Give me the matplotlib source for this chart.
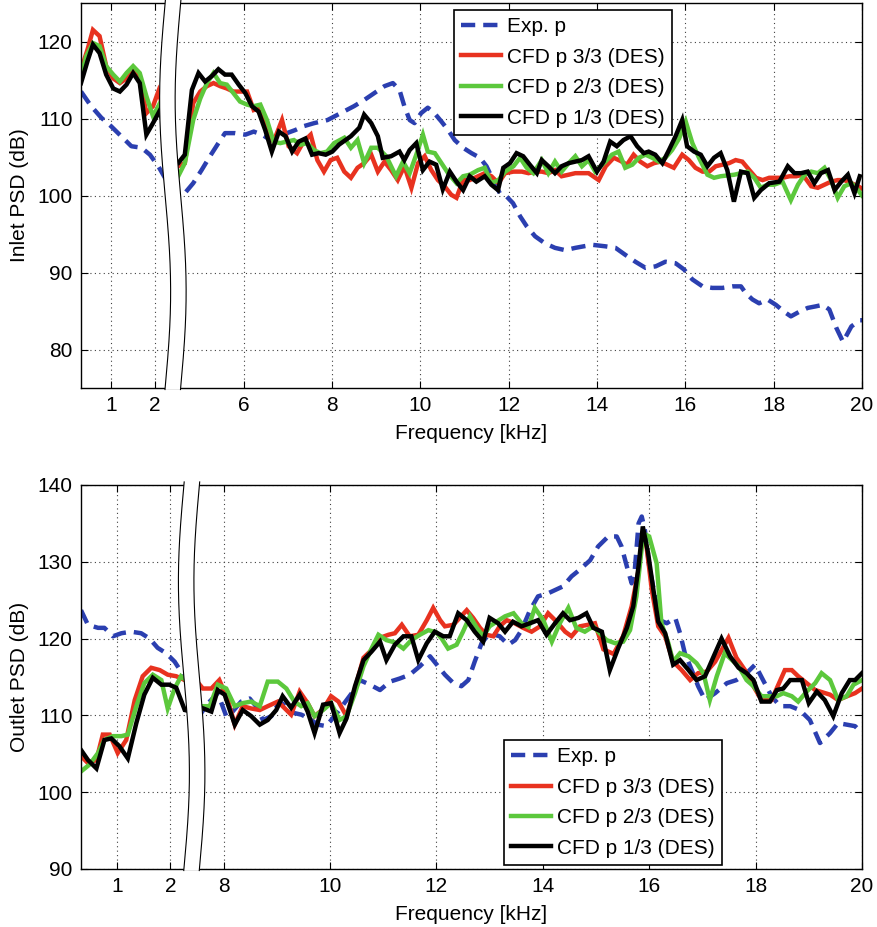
import numpy as np
import matplotlib
matplotlib.use('Agg')
import matplotlib.pyplot as plt
from matplotlib.patches import Polygon

plt.rcParams['font.family'] = ['Liberation Sans', 'DejaVu Sans']

# ---------------- DATA (frequency in kHz, PSD in dB) ----------------
labels = ['Exp. p', 'CFD p 3/3 (DES)', 'CFD p 2/3 (DES)', 'CFD p 1/3 (DES)']
inlet_xticks = [1, 2, 6, 8, 10, 12, 14, 16, 18, 20]
outlet_xticks = [1, 2, 8, 10, 12, 14, 16, 18, 20]
inlet_yticks = [80, 90, 100, 110, 120]
outlet_yticks = [90, 100, 110, 120, 130, 140]

# Inlet: Exp. p
inlet_exp_f = [0.32, 0.55, 0.78, 1.0, 1.23, 1.46, 1.69, 1.88, 2.07, 2.25, 2.4,
               4.4, 4.52, 4.67, 4.86, 5.05, 5.24, 5.43, 5.58, 5.81, 6.04,
               6.23, 6.42, 6.61, 6.8, 6.98, 7.17, 7.36, 7.6, 7.9, 8.2,
               8.5, 8.73, 8.96, 9.19, 9.38, 9.53, 9.64, 9.76, 9.87, 10.02,
               10.17, 10.32, 10.48, 10.63, 10.78, 10.97, 11.16, 11.35, 11.5, 11.65,
               11.8, 11.95, 12.1, 12.26, 12.41, 12.6, 12.82, 13.05, 13.28, 13.51,
               13.89, 14.19, 14.42, 14.64, 14.87, 15.1, 15.33, 15.55, 15.78, 15.97,
               16.16, 16.39, 16.61, 16.84, 17.07, 17.26, 17.37, 17.52, 17.67, 17.86,
               18.05, 18.24, 18.39, 18.58, 18.77, 18.95, 19.11, 19.26, 19.42, 19.57,
               19.76, 19.95, 20.0]
inlet_exp_v = [113.5, 111.6, 110.1, 109.0, 107.7, 106.4, 106.2, 105.3, 103.8, 102.0, 100.5,
               100.2, 100.1, 100.3, 101.6, 103.3, 105.1, 106.8, 108.1, 108.1, 107.9,
               108.3, 107.9, 107.2, 107.6, 108.1, 108.5, 109.0, 109.4, 109.8, 110.7,
               111.6, 112.4, 113.3, 114.2, 114.6, 113.7, 111.6, 109.8, 109.4, 110.7,
               111.4, 110.7, 109.6, 108.5, 107.2, 106.2, 105.5, 104.9, 103.8, 102.0,
               100.3, 99.9, 99.0, 97.3, 96.0, 94.7, 93.8, 93.2, 92.9, 93.2,
               93.6, 93.4, 93.2, 92.3, 91.4, 90.6, 90.8, 91.4, 91.2, 90.4,
               89.1, 88.2, 88.0, 88.0, 88.2, 88.2, 87.3, 86.5, 86.0, 86.5,
               85.8, 84.9, 84.3, 84.9, 85.4, 85.6, 85.8, 85.2, 82.8, 81.0,
               83.0, 83.8, 83.8]

# Inlet: CFD p 3/3
inlet_c3_f = [0.32, 0.47, 0.59, 0.74, 0.89, 1.05, 1.2, 1.35, 1.5, 1.65, 1.8, 1.95, 2.07, 2.25, 2.4,
              4.4, 4.52, 4.67, 4.86, 5.02, 5.17, 5.32, 5.47, 5.62, 5.77,
              5.92, 6.08, 6.23, 6.38, 6.53, 6.68, 6.87, 7.02, 7.21, 7.36,
              7.52, 7.67, 7.82, 7.97, 8.12, 8.28, 8.43, 8.58, 8.73, 8.89,
              9.04, 9.19, 9.34, 9.49, 9.64, 9.8, 9.95, 10.1, 10.25, 10.4,
              10.55, 10.7, 10.82, 10.97, 11.12, 11.31, 11.46, 11.61, 11.77, 11.92,
              12.11, 12.3, 12.45, 12.6, 12.75, 12.9, 13.05, 13.2, 13.36, 13.51,
              13.66, 13.81, 14.04, 14.2, 14.38, 14.53, 14.68, 14.83, 14.98, 15.14,
              15.29, 15.44, 15.59, 15.74, 15.93, 16.08, 16.23, 16.39, 16.54, 16.69,
              16.84, 16.99, 17.14, 17.29, 17.45, 17.6, 17.75, 17.9, 18.05, 18.2,
              18.36, 18.51, 18.66, 18.85, 19.0, 19.15, 19.3, 19.45, 19.6, 19.76,
              19.91, 20.0]
inlet_c3_v = [116.3, 119.0, 121.5, 120.7, 116.8, 115.2, 114.6, 115.2, 116.3, 115.2, 110.7, 111.6, 113.5, 110.0, 105.0,
              104.5, 103.8, 104.2, 112.0, 113.5, 114.2, 114.6, 114.2, 113.9, 113.5,
              113.5, 113.5, 111.1, 111.4, 108.5, 107.0, 109.8, 106.4, 105.5, 107.0,
              107.9, 104.6, 103.1, 104.6, 104.9, 103.1, 102.3, 103.6, 104.2, 105.3,
              103.1, 104.4, 103.3, 102.0, 103.8, 101.0, 104.2, 105.1, 103.3, 102.0,
              101.2, 100.1, 99.7, 102.0, 102.0, 102.5, 102.9, 102.5, 101.6, 102.9,
              103.1, 103.1, 102.9, 103.1, 103.1, 102.9, 103.3, 102.5, 102.7, 102.9,
              102.9, 102.9, 102.0, 103.8, 104.9, 104.5, 104.0, 105.3, 104.4, 103.8,
              104.2, 104.4, 104.0, 103.6, 105.3, 104.6, 103.6, 103.1, 103.1, 103.8,
              104.0, 104.2, 104.6, 104.4, 103.3, 102.3, 102.0, 102.3, 102.3, 102.3,
              102.5, 102.5, 102.7, 101.2, 101.0, 101.4, 101.8, 102.0, 102.0, 101.6,
              101.2, 100.9]

# Inlet: CFD p 2/3
inlet_c2_f = [0.32, 0.44, 0.59, 0.74, 0.89, 1.05, 1.2, 1.35, 1.5, 1.65, 1.8, 1.95, 2.07, 2.25, 2.4,
              4.4, 4.52, 4.67, 4.86, 5.02, 5.17, 5.32, 5.47, 5.62, 5.77,
              5.92, 6.08, 6.23, 6.38, 6.53, 6.68, 6.83, 6.98, 7.14, 7.29,
              7.44, 7.59, 7.74, 7.89, 8.05, 8.28, 8.43, 8.58, 8.73, 8.89,
              9.04, 9.23, 9.45, 9.61, 9.76, 9.91, 10.06, 10.17, 10.33, 10.48,
              10.63, 10.82, 10.97, 11.12, 11.31, 11.46, 11.61, 11.77, 11.92, 12.11,
              12.26, 12.41, 12.56, 12.75, 12.9, 13.05, 13.2, 13.36, 13.51, 13.66,
              13.81, 13.96, 14.19, 14.34, 14.49, 14.64, 14.8, 14.95, 15.1, 15.25,
              15.4, 15.55, 15.7, 15.86, 16.01, 16.16, 16.31, 16.5, 16.65, 16.8,
              16.95, 17.11, 17.26, 17.41, 17.56, 17.71, 17.86, 18.01, 18.2, 18.39,
              18.55, 18.7, 18.85, 19.0, 19.15, 19.3, 19.45, 19.6, 19.76, 19.91,
              20.0]
inlet_c2_v = [115.5, 118.1, 119.8, 119.4, 116.8, 115.7, 114.8, 115.9, 116.8, 115.9, 112.9, 110.3, 111.6, 108.0, 103.5,
              103.0, 102.5, 104.2, 109.8, 112.6, 114.6, 115.9, 114.6, 114.4, 113.3,
              112.2, 111.8, 111.6, 111.8, 109.8, 107.0, 106.8, 107.0, 107.2, 106.6,
              106.8, 105.9, 105.5, 105.7, 106.8, 107.5, 106.2, 107.2, 104.2, 106.2,
              106.2, 105.1, 102.5, 104.4, 102.9, 105.3, 107.9, 105.7, 105.5, 104.2,
              102.9, 101.6, 102.5, 102.7, 103.3, 103.6, 101.6, 102.0, 103.1, 103.8,
              104.9, 103.6, 102.9, 104.6, 102.9, 104.4, 103.1, 104.2, 105.1, 103.8,
              104.6, 103.1, 104.4, 105.3, 105.7, 103.6, 104.0, 104.9, 105.3, 104.9,
              104.4, 104.9, 105.9, 107.4, 109.6, 106.8, 104.9, 102.7, 102.3, 102.5,
              102.6, 102.7, 102.9, 103.1, 102.3, 101.0, 101.4, 101.4, 101.8, 99.4,
              101.4, 102.7, 103.1, 102.9, 103.6, 102.0, 99.7, 101.2, 101.6, 100.7,
              100.0]

# Inlet: CFD p 1/3
inlet_c1_f = [0.32, 0.47, 0.59, 0.74, 0.89, 1.05, 1.2, 1.35, 1.5, 1.65, 1.8, 1.95, 2.1, 2.25, 2.4,
              4.4, 4.52, 4.67, 4.83, 4.98, 5.13, 5.28, 5.43, 5.58, 5.73,
              5.89, 6.04, 6.19, 6.34, 6.49, 6.64, 6.8, 6.95, 7.1, 7.25,
              7.4, 7.55, 7.7, 7.86, 8.01, 8.16, 8.43, 8.62, 8.73, 8.89,
              9.04, 9.15, 9.34, 9.53, 9.64, 9.76, 9.91, 10.06, 10.21, 10.36,
              10.51, 10.67, 10.82, 10.97, 11.12, 11.27, 11.46, 11.61, 11.76, 11.88,
              12.03, 12.18, 12.33, 12.48, 12.64, 12.75, 12.9, 13.05, 13.2, 13.36,
              13.51, 13.66, 13.81, 14.0, 14.15, 14.3, 14.45, 14.6, 14.76, 14.91,
              15.06, 15.17, 15.32, 15.48, 15.63, 15.78, 15.93, 16.04, 16.2, 16.35,
              16.5, 16.65, 16.8, 16.95, 17.1, 17.26, 17.41, 17.56, 17.71, 17.9,
              18.13, 18.32, 18.47, 18.62, 18.77, 18.92, 19.07, 19.23, 19.38, 19.53,
              19.68, 19.83, 19.95]
inlet_c1_v = [114.6, 117.5, 119.6, 118.5, 115.7, 113.9, 113.5, 114.4, 115.9, 114.6, 107.9, 109.4, 111.0, 108.0, 105.0,
              104.3, 104.2, 105.3, 113.7, 115.9, 114.8, 115.5, 116.4, 115.7, 115.7,
              114.4, 113.3, 111.6, 110.9, 108.5, 105.7, 108.3, 107.7, 105.7, 107.0,
              107.4, 105.3, 105.5, 105.3, 105.7, 106.6, 107.7, 108.8, 110.5, 109.4,
              107.7, 104.9, 105.1, 105.7, 104.6, 105.9, 106.8, 103.3, 104.4, 104.0,
              100.8, 103.1, 101.8, 100.7, 102.5, 101.8, 102.5, 101.4, 100.7, 103.6,
              104.2, 105.5, 105.1, 104.0, 102.9, 104.6, 103.8, 102.9, 103.8, 104.2,
              104.4, 104.6, 105.1, 103.1, 104.4, 107.0, 106.4, 107.2, 107.7, 106.4,
              105.5, 105.7, 105.3, 104.2, 105.9, 107.7, 109.8, 106.4, 105.7, 105.3,
              103.8, 104.9, 105.5, 103.3, 99.2, 103.1, 102.9, 99.7, 100.7, 101.6,
              101.8, 103.8, 102.9, 102.9, 103.1, 101.6, 102.9, 103.3, 100.7, 101.8,
              102.7, 100.3, 102.5]

# Outlet: Exp. p
outlet_exp_f = [0.32, 0.45, 0.64, 0.76, 0.92, 1.08, 1.26, 1.45, 1.61, 1.76, 1.92, 2.08, 2.2, 2.4,
                7.4, 7.58, 7.71, 7.89, 8.05, 8.17, 8.33, 8.49, 8.61, 8.74,
                8.9, 9.05, 9.21, 9.33, 9.46, 9.61, 9.77, 9.93, 10.13, 10.41,
                10.56, 10.75, 10.94, 11.13, 11.31, 11.5, 11.69, 11.88, 12.16, 12.32,
                12.47, 12.6, 12.72, 12.85, 13.0, 13.19, 13.35, 13.48, 13.6, 13.76,
                13.91, 14.1, 14.38, 14.54, 14.7, 14.89, 15.04, 15.23, 15.39, 15.48,
                15.58, 15.67, 15.73, 15.8, 15.86, 15.92, 16.0, 16.11, 16.2, 16.33,
                16.49, 16.58, 16.67, 16.8, 16.92, 17.05, 17.24, 17.46, 17.64, 17.83,
                17.99, 18.14, 18.3, 18.46, 18.65, 18.83, 19.02, 19.21, 19.4, 19.55,
                19.71, 19.87, 20.0]
outlet_exp_v = [123.7, 121.8, 121.4, 121.4, 120.3, 120.7, 120.9, 120.7, 120.0, 118.8, 118.1, 117.0, 115.7, 113.0,
                110.0, 110.3, 111.6, 112.9, 109.9, 110.5, 111.8, 112.2, 111.2, 109.4,
                109.9, 111.8, 111.0, 110.3, 110.1, 109.6, 108.8, 108.6, 110.3, 112.9,
                114.6, 114.0, 113.3, 114.4, 114.8, 115.3, 116.4, 117.7, 115.3, 114.2,
                113.8, 114.6, 117.0, 119.4, 120.7, 120.3, 119.2, 119.8, 121.1, 123.7,
                125.5, 125.9, 126.8, 128.1, 129.0, 130.2, 132.0, 133.3, 133.3, 132.0,
                129.4, 127.2, 129.0, 135.0, 135.9, 134.1, 129.4, 125.5, 122.4, 122.0,
                122.7, 120.7, 118.1, 115.9, 113.8, 112.0, 112.9, 114.2, 114.6, 115.5,
                116.6, 114.6, 112.5, 111.2, 111.2, 110.7, 109.4, 106.4, 107.7, 109.0,
                108.8, 108.6, 107.7]

# Outlet: CFD p 3/3
outlet_c3_f = [0.32, 0.45, 0.61, 0.73, 0.86, 1.01, 1.17, 1.33, 1.48, 1.64, 1.8, 1.95, 2.11, 2.27, 2.4,
               7.4, 7.48, 7.61, 7.77, 7.92, 8.08, 8.21, 8.36, 8.52, 8.68,
               8.83, 9.02, 9.27, 9.43, 9.58, 9.71, 9.87, 10.02, 10.16, 10.31,
               10.47, 10.63, 10.78, 10.94, 11.1, 11.22, 11.35, 11.5, 11.66, 11.82,
               11.94, 12.07, 12.16, 12.32, 12.57, 12.69, 12.82, 12.94, 13.07, 13.19,
               13.32, 13.47, 13.63, 13.79, 13.95, 14.1, 14.26, 14.42, 14.54, 14.7,
               14.85, 14.98, 15.14, 15.33, 15.51, 15.67, 15.8, 15.88, 15.95, 16.05,
               16.17, 16.3, 16.45, 16.61, 16.77, 16.92, 17.08, 17.24, 17.49, 17.64,
               17.8, 17.96, 18.11, 18.3, 18.55, 18.68, 18.8, 18.96, 19.12, 19.4,
               19.55, 19.72, 19.87, 20.0]
outlet_c3_v = [104.7, 103.8, 104.2, 107.5, 107.5, 105.1, 106.8, 112.0, 115.1, 116.2, 115.9, 115.3, 115.1, 114.6, 114.6,
               114.6, 114.6, 113.5, 113.5, 114.6, 112.0, 108.8, 111.2, 110.9, 110.7,
               111.2, 111.8, 110.1, 113.1, 111.6, 109.9, 110.8, 112.5, 111.8, 109.9,
               113.5, 117.5, 118.5, 120.1, 120.5, 120.7, 121.8, 120.3, 120.5, 122.4,
               124.0, 122.4, 121.6, 121.8, 123.7, 122.7, 121.4, 120.5, 120.3, 121.6,
               122.4, 122.0, 121.4, 120.9, 121.6, 123.3, 122.2, 120.9, 120.3, 121.6,
               121.8, 122.0, 118.6, 118.0, 120.3, 124.2, 128.9, 133.7, 132.0, 126.3,
               121.6, 120.3, 117.0, 115.9, 114.6, 115.5, 115.7, 117.0, 120.1, 117.5,
               115.9, 113.8, 112.0, 112.0, 115.9, 115.9, 115.1, 114.2, 113.3, 112.7,
               112.0, 112.5, 112.9, 113.5]

# Outlet: CFD p 2/3
outlet_c2_f = [0.32, 0.48, 0.64, 0.76, 0.92, 1.08, 1.2, 1.36, 1.51, 1.67, 1.83, 1.95, 2.08, 2.2, 2.4,
               7.4, 7.58, 7.74, 7.89, 8.05, 8.21, 8.36, 8.52, 8.68, 8.83,
               9.02, 9.18, 9.33, 9.46, 9.58, 9.71, 9.87, 10.02, 10.18, 10.31,
               10.47, 10.63, 10.78, 10.91, 11.06, 11.22, 11.38, 11.53, 11.69, 11.85,
               12.0, 12.1, 12.22, 12.38, 12.5, 12.63, 12.76, 12.88, 13.0, 13.13,
               13.29, 13.45, 13.6, 13.73, 13.85, 14.01, 14.17, 14.32, 14.48, 14.63,
               14.79, 14.95, 15.07, 15.2, 15.36, 15.51, 15.64, 15.76, 15.89, 16.0,
               16.14, 16.23, 16.36, 16.45, 16.58, 16.74, 16.89, 17.02, 17.14, 17.27,
               17.42, 17.68, 17.83, 17.96, 18.11, 18.4, 18.52, 18.68, 18.8, 18.96,
               19.12, 19.24, 19.4, 19.55, 19.71, 19.84, 20.0]
outlet_c2_v = [102.7, 103.6, 105.1, 106.8, 107.3, 107.3, 107.5, 111.2, 114.2, 115.3, 114.6, 110.9, 113.5, 115.1, 114.0,
               111.0, 111.2, 111.2, 114.0, 113.5, 111.2, 111.6, 111.8, 111.2, 114.4,
               114.4, 113.5, 111.8, 111.2, 111.6, 109.9, 110.7, 111.6, 109.4, 109.9,
               112.9, 116.4, 118.7, 120.5, 119.8, 119.5, 118.7, 119.8, 120.5, 121.1,
               120.8, 120.0, 118.7, 119.2, 120.9, 122.9, 121.4, 120.3, 121.6, 122.2,
               122.9, 123.3, 122.0, 121.5, 124.0, 122.4, 119.6, 122.0, 124.0, 121.4,
               120.9, 121.6, 120.7, 119.8, 119.4, 119.6, 121.1, 125.5, 133.7, 133.3,
               129.8, 122.0, 119.4, 117.0, 118.1, 117.7, 116.8, 115.5, 112.0, 115.1,
               118.1, 116.4, 114.6, 113.8, 112.5, 112.5, 112.9, 112.5, 111.8, 113.1,
               114.2, 115.5, 114.6, 112.0, 112.5, 114.0, 114.6]

# Outlet: CFD p 1/3
outlet_c1_f = [0.32, 0.45, 0.61, 0.76, 0.89, 1.04, 1.2, 1.36, 1.51, 1.67, 1.83, 1.98, 2.11, 2.27, 2.4,
               7.4, 7.58, 7.77, 7.89, 8.02, 8.21, 8.36, 8.52, 8.68, 8.83,
               8.99, 9.11, 9.27, 9.43, 9.58, 9.71, 9.87, 10.02, 10.18, 10.31,
               10.47, 10.63, 10.78, 10.94, 11.06, 11.22, 11.38, 11.53, 11.66, 11.82,
               11.97, 12.13, 12.25, 12.41, 12.57, 12.72, 12.88, 13.0, 13.16, 13.29,
               13.44, 13.6, 13.76, 13.91, 14.07, 14.23, 14.38, 14.51, 14.67, 14.82,
               14.95, 15.11, 15.26, 15.42, 15.58, 15.7, 15.8, 15.88, 15.98, 16.08,
               16.17, 16.3, 16.45, 16.58, 16.74, 16.89, 17.05, 17.2, 17.36, 17.52,
               17.68, 17.83, 17.96, 18.11, 18.27, 18.4, 18.52, 18.65, 18.74, 18.87,
               19.0, 19.15, 19.3, 19.46, 19.62, 19.77, 19.87, 20.0]
outlet_c1_v = [105.5, 104.2, 103.1, 106.8, 107.0, 106.0, 104.4, 109.0, 112.7, 114.9, 114.0, 114.0, 113.6, 110.7, 110.5,
               110.8, 111.0, 110.5, 113.3, 112.7, 108.8, 110.7, 109.9, 108.8, 109.4,
               110.7, 112.5, 111.0, 112.7, 110.5, 107.7, 111.4, 111.6, 107.7, 109.6,
               113.8, 117.2, 118.3, 119.6, 117.2, 119.2, 120.3, 120.3, 117.2, 119.4,
               120.9, 120.3, 120.3, 123.3, 122.4, 120.9, 119.6, 122.7, 122.0, 120.9,
               122.2, 121.6, 122.0, 122.4, 120.5, 122.0, 123.3, 122.4, 122.7, 123.3,
               121.4, 120.9, 115.9, 118.8, 121.4, 124.2, 129.4, 134.6, 131.1, 126.3,
               122.2, 120.7, 116.6, 117.2, 115.9, 114.6, 115.1, 117.5, 120.0, 117.7,
               116.2, 115.5, 114.6, 111.8, 111.8, 113.3, 113.5, 114.6, 114.6, 114.6,
               111.6, 113.1, 112.0, 109.9, 112.9, 114.6, 114.6, 115.5]

# ---------------- STYLE ----------------
BLUE = '#2b3fb0'
RED = '#e8321f'
GREEN = '#5cc83c'
BLACK = '#000000'
FS = 15
LW = 3.2

W, H = 878, 927
fig = plt.figure(figsize=(W / 100, H / 100), dpi=100)
ax1 = fig.add_axes([81 / W, 1 - 388 / H, 781 / W, 385 / H])
ax2 = fig.add_axes([81 / W, 1 - 869 / H, 781 / W, 384 / H])


def broken_scale(ax, a, s):
    def fwd(x):
        x = np.asarray(x, dtype=float)
        return np.where(x <= a, x, np.where(x >= a + s, x - s, a))

    def inv(y):
        y = np.asarray(y, dtype=float)
        return np.where(y <= a, y, y + s)

    ax.set_xscale('function', functions=(fwd, inv))


def draw_break(ax, a, s, xmin, xmax, width_px, amp_px):
    cx = (a - xmin) / ((xmax - s) - xmin)
    w = width_px / 781.0
    A = amp_px / 781.0
    y = np.linspace(-0.004, 1.008, 300)
    xl = cx - w / 2 + A * np.sin(2 * np.pi * y)
    xr = cx + w / 2 + A * np.sin(2 * np.pi * y)
    pts = np.column_stack([np.r_[xl, xr[::-1]], np.r_[y, y[::-1]]])
    ax.add_patch(Polygon(pts, closed=True, transform=ax.transAxes, facecolor='white',
                         edgecolor='none', clip_on=False, zorder=10))
    for xx in (xl, xr):
        ax.plot(xx, y, transform=ax.transAxes, color='k', lw=0.8, clip_on=False, zorder=11)


def panel(ax, series, a, s, xticks, yticks, ylim, ylabel, leg_loc, leg_anchor):
    broken_scale(ax, a, s)
    handles = []
    for (f, v), col, lab in zip(series, [BLUE, RED, GREEN, BLACK], labels):
        if lab.startswith('Exp'):
            h, = ax.plot(f, v, color=col, lw=LW, dashes=(3.2, 1.8), label=lab, zorder=3)
        else:
            h, = ax.plot(f, v, color=col, lw=LW, label=lab, zorder=3,
                         solid_joinstyle='miter')
        handles.append(h)
    draw_break(ax, a, s, 0.32, 20.0, 15.5, 5.5)
    ax.set_xlim(0.32, 20.0)
    ax.set_ylim(*ylim)
    ax.set_xticks(xticks)
    ax.set_xticklabels([str(t) for t in xticks])
    ax.set_yticks(yticks)
    ax.minorticks_off()
    ax.grid(True, linestyle=(0, (1, 3)), color='0.25', linewidth=0.8)
    ax.tick_params(direction='in', length=5, width=0.8, top=True, right=True,
                   labelsize=FS, pad=6)
    for sp in ax.spines.values():
        sp.set_linewidth(1.0)
        sp.set_zorder(5)
    ax.set_ylabel(ylabel, fontsize=FS, labelpad=6)
    ax.set_xlabel('Frequency [kHz]', fontsize=FS, labelpad=6)
    leg = ax.legend(handles=handles, loc=leg_loc, bbox_to_anchor=leg_anchor,
                    borderaxespad=0, fancybox=False, edgecolor='k', framealpha=1,
                    fontsize=FS, handlelength=1.9, handletextpad=0.3,
                    labelspacing=0.55, borderpad=0.35)
    leg.get_frame().set_linewidth(1.2)
    leg.set_zorder(20)


panel(ax1,
      [(inlet_exp_f, inlet_exp_v), (inlet_c3_f, inlet_c3_v),
       (inlet_c2_f, inlet_c2_v), (inlet_c1_f, inlet_c1_v)],
      2.4, 2.0, inlet_xticks, inlet_yticks, (75, 125), 'Inlet PSD (dB)',
      'upper left', (0.4776, 0.982))
panel(ax2,
      [(outlet_exp_f, outlet_exp_v), (outlet_c3_f, outlet_c3_v),
       (outlet_c2_f, outlet_c2_v), (outlet_c1_f, outlet_c1_v)],
      2.4, 5.0, outlet_xticks, outlet_yticks, (90, 140), 'Outlet PSD (dB)',
      'lower left', (0.5416, 0.0104))

fig.savefig('out.png', dpi=100)
